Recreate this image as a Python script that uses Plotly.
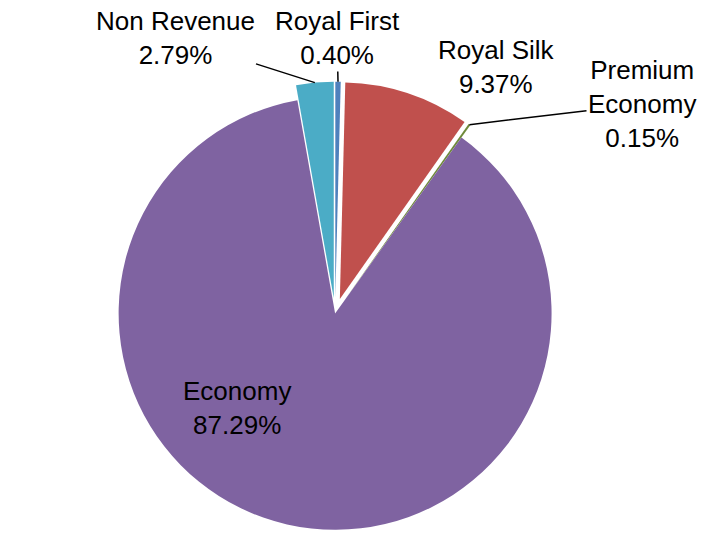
import math
import plotly.graph_objects as go

categories = ["Royal First", "Royal Silk", "Premium Economy", "Economy", "Non Revenue"]
display_labels = ["Royal First", "Royal Silk", "Premium<br>Economy", "Economy", "Non Revenue"]
shares = [0.40, 9.37, 0.15, 87.29, 2.79]
colors = ["#4F81BD", "#C0504D", "#6F8A3A", "#7F63A1", "#4BACC6"]
pulls = [0.07, 0.07, 0.07, 0.0, 0.07]

W, H = 704, 545
dom_x = [0.0, 0.952]
dom_y = [0.0, 0.85]

# label placement (pixel centres) and whether a leader line is drawn
label_pos = {
    "Non Revenue": (175, 38, True),
    "Royal First": (337, 38, True),
    "Royal Silk": (496, 67, False),
    "Premium Economy": (642, 104, True),
    "Economy": (237, 408, False),
}
FONT = dict(family="Liberation Sans, Arial, sans-serif", size=26, color="black")

fig = go.Figure(go.Pie(
    labels=categories,
    values=shares,
    text=display_labels,
    sort=False,
    direction="clockwise",
    rotation=0,
    pull=pulls,
    domain=dict(x=dom_x, y=dom_y),
    marker=dict(colors=colors, line=dict(width=0)),
    textinfo="none",
    showlegend=False,
    hoverinfo="label+percent",
))

# pie geometry (same rule plotly uses to size the pie inside its domain)
dw = (dom_x[1] - dom_x[0]) * W
dh = (dom_y[1] - dom_y[0]) * H
r = min(dw, dh) / (2 + 2 * max(pulls))
cx = (dom_x[0] + dom_x[1]) / 2 * W
cy = (1 - (dom_y[0] + dom_y[1]) / 2) * H

total = sum(shares)
cum = 0.0
for cat, lab, val, pull in zip(categories, display_labels, shares, pulls):
    start = cum / total
    cum += val
    end = cum / total
    mid = (start + end) / 2 * 2 * math.pi
    tx = cx + (1 + pull) * r * math.sin(mid)
    ty = cy - (1 + pull) * r * math.cos(mid)
    lx, ly, line = label_pos[cat]
    txt = f"{lab}<br>{val / total * 100:.2f}%"
    if line:
        fig.add_annotation(
            x=tx / W, y=1 - ty / H, xref="paper", yref="paper",
            text=txt, showarrow=True, arrowhead=0, arrowwidth=1.5,
            arrowcolor="black", ax=lx - tx, ay=ly - ty, standoff=0,
            font=FONT,
        )
    else:
        fig.add_annotation(
            x=lx / W, y=1 - ly / H, xref="paper", yref="paper",
            xanchor="center", yanchor="middle",
            text=txt, showarrow=False, font=FONT,
        )

fig.update_layout(
    width=W, height=H,
    margin=dict(l=0, r=0, t=0, b=0),
    paper_bgcolor="white",
    plot_bgcolor="white",
)

fig.write_html(
    "out.html",
    config={"displayModeBar": False},
    post_script="document.body.style.margin='0';",
)
